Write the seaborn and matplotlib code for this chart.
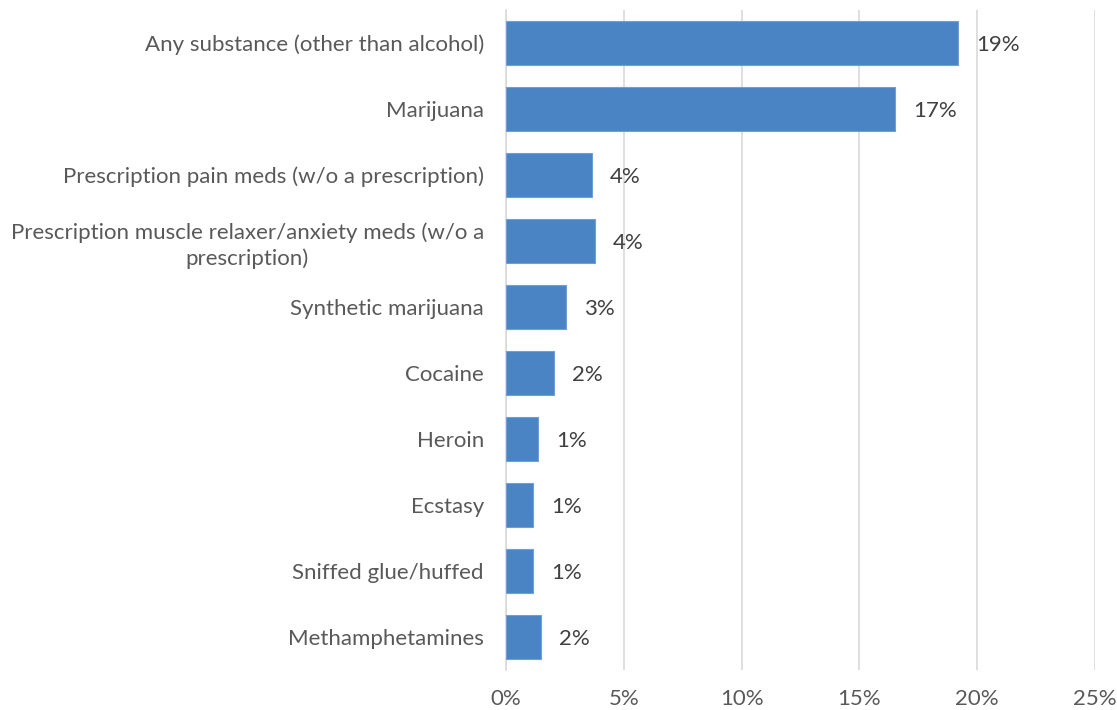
import matplotlib
matplotlib.use("Agg")
import matplotlib.pyplot as plt
import seaborn as sns
import pandas as pd
from matplotlib.ticker import FuncFormatter

categories = [
    "Any substance (other than alcohol)",
    "Marijuana",
    "Prescription pain meds (w/o a prescription)",
    "Prescription muscle relaxer/anxiety meds (w/o a\nprescription)",
    "Synthetic marijuana",
    "Cocaine",
    "Heroin",
    "Ecstasy",
    "Sniffed glue/huffed",
    "Methamphetamines",
]
values = [19.2, 16.5, 3.65, 3.78, 2.55, 2.05, 1.35, 1.15, 1.15, 1.5]
value_labels = ["19%", "17%", "4%", "4%", "3%", "2%", "1%", "1%", "1%", "2%"]
x_ticks = [0, 5, 10, 15, 20, 25]

sns.set_style("white")
plt.rcParams["font.family"] = ["Lato", "DejaVu Sans"]

df = pd.DataFrame({"category": categories, "value": values})

fig = plt.figure(figsize=(11.17, 7.10), dpi=100)
ax = fig.add_axes([506 / 1117, 1 - 670 / 710, (1095 - 506) / 1117, 660 / 710])

sns.barplot(data=df, y="category", x="value", orient="h", color="#4A84C4",
            width=0.67, edgecolor="#6F9FD6", linewidth=0.8, saturation=1, ax=ax, zorder=3)

ax.set_xlim(0, 25)
ax.set_xticks(x_ticks)
ax.xaxis.set_major_formatter(FuncFormatter(lambda v, p: f"{v:.0f}%"))
ax.grid(axis="x", color="#D9D9D9", linewidth=1.2, zorder=0)
ax.set_axisbelow(True)
for s in ["top", "right", "bottom"]:
    ax.spines[s].set_visible(False)
ax.spines["left"].set_color("#D9D9D9")
ax.spines["left"].set_linewidth(1.2)
ax.set_xlabel("")
ax.set_ylabel("")
fs = 16
ax.tick_params(axis="both", length=0, labelsize=fs, labelcolor="#595959")
ax.tick_params(axis="x", pad=14)
ax.tick_params(axis="y", pad=16)
for lbl in ax.get_yticklabels():
    lbl.set_multialignment("center")
    lbl.set_linespacing(1.35)

for i, (v, t) in enumerate(zip(values, value_labels)):
    ax.annotate(t, xy=(v, i), xytext=(13, -1.5), textcoords="offset points",
                va="center", ha="left", fontsize=fs, color="#404040")

fig.savefig("out.png", dpi=100)
